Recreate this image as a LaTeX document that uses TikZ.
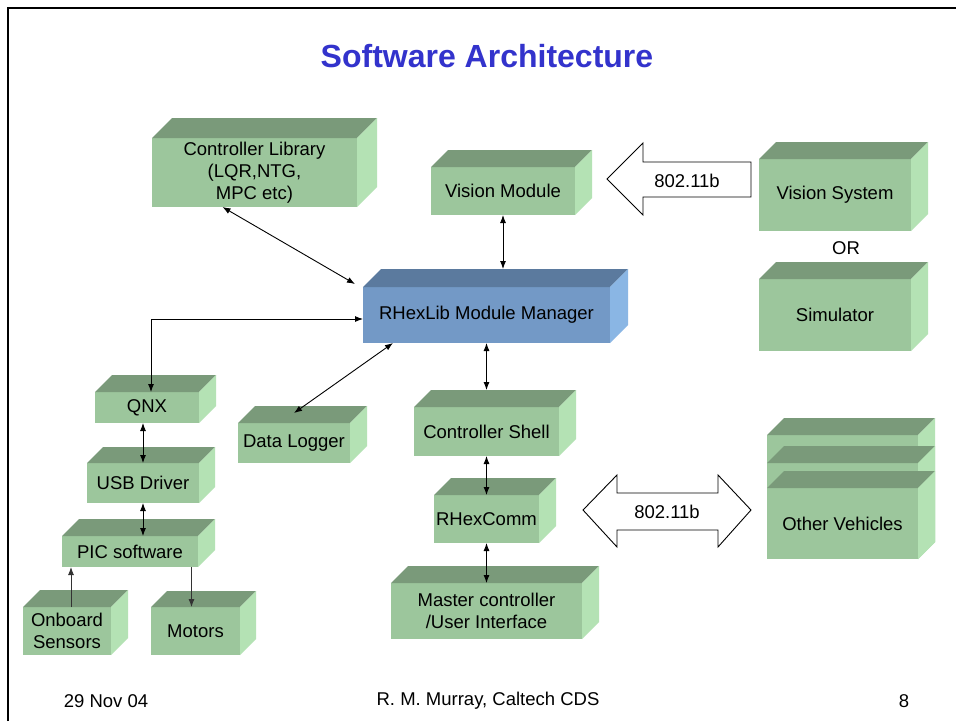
\documentclass[tikz,border=0pt]{standalone}
\usepackage{fontspec}
\setmainfont{Liberation Sans}
\usetikzlibrary{calc,arrows.meta}
\definecolor{gfront}{HTML}{9CC69C}
\definecolor{gtop}{HTML}{7A9A7A}
\definecolor{gside}{HTML}{B4E2B4}
\definecolor{bfront}{HTML}{7399C6}
\definecolor{btop}{HTML}{5B7A9E}
\definecolor{bside}{HTML}{8AB6E4}
\definecolor{titleblue}{HTML}{3333CC}
\tikzset{
  cubeface/.style={draw=none, inner sep=0pt, outer sep=0pt, align=center, text=black,
    font=\fontsize{18.5}{22}\selectfont},
  lbl/.style={font=\fontsize{18.5}{22}\selectfont, inner sep=0pt},
  dbl/.style={{Latex[length=8pt,width=6pt]}-{Latex[length=8pt,width=6pt]}, line width=0.9pt},
  sgl/.style={-{Latex[length=8pt,width=6pt]}, line width=0.9pt, draw=black!80},
  blockarrow/.style={draw=black, fill=white, line width=0.9pt, line join=miter}
}
% scheme, name, x1, y1, x2, y2, depth, text
\newcommand\mkcube[8]{%
  \pgfmathsetmacro\cubeW{#5-#3}\pgfmathsetmacro\cubeH{#6-#4}%
  \node[cubeface, fill=#1front, minimum width=\cubeW pt, minimum height=\cubeH pt, anchor=north west] (#2) at (#3,#4) {#8};
  \fill[#1top] (#2.north west) -- ++(#7,-#7) -- ($(#2.north east)+(#7,-#7)$) -- (#2.north east) -- cycle;
  \fill[#1side] (#2.north east) -- ++(#7,-#7) -- ($(#2.south east)+(#7,-#7)$) -- (#2.south east) -- cycle;
}
\begin{document}
\begin{tikzpicture}[x=1pt,y=-1pt]
\useasboundingbox (0,0) rectangle (956,721);
\fill[white] (0,0) rectangle (956,721);
% frame
\draw[line width=2.5pt] (8,721) -- (8,8) -- (956,8);
% title
\node[font=\fontsize{32}{36}\selectfont\bfseries, text=titleblue] (title) at (487,56) {Software Architecture};
% boxes
\mkcube{g}{cl}{152}{138}{357}{207}{20}{Controller Library\\(LQR,NTG,\\MPC etc)}
\mkcube{g}{vm}{431}{167}{575}{215}{17}{Vision Module}
\mkcube{b}{rm}{363}{287}{610}{343}{18}{RHexLib Module Manager}
\mkcube{g}{vs}{759}{159}{911}{231}{17}{Vision System}
\mkcube{g}{sim}{759}{279}{911}{351}{17}{Simulator}
\mkcube{g}{qnx}{95}{392}{199}{423}{17}{QNX}
\mkcube{g}{usb}{87}{463}{199}{503}{16}{USB Driver}
\mkcube{g}{pic}{62}{536}{198}{567}{17}{PIC software}
\mkcube{g}{os}{23}{607}{111}{655}{17}{Onboard\\Sensors}
\mkcube{g}{mo}{151}{607}{240}{655}{16}{Motors}
\mkcube{g}{dl}{238}{423}{350}{463}{17}{Data Logger}
\mkcube{g}{cs}{414}{407}{559}{456}{17}{Controller Shell}
\mkcube{g}{rc}{434}{495}{539}{543}{17}{RHexComm}
\mkcube{g}{mc}{391}{583}{582}{639}{17}{Master controller\\/User Interface}
\mkcube{g}{ovA}{767}{435}{918}{559}{17}{}
\mkcube{g}{ovB}{767}{463}{918}{559}{17}{}
\mkcube{g}{ov}{767}{488}{918}{559}{17}{Other Vehicles}
% OR
\node[lbl] (or) at (846,248) {OR};
% block arrows
\draw[blockarrow] (607,179) -- (643,143) -- (643,162) -- (751,162) -- (751,197) -- (643,197) -- (643,215) -- cycle;
\node[lbl] (wlan1) at (687,181) {802.11b};
\draw[blockarrow] (583,510) -- (617,475) -- (617,493) -- (718,493) -- (718,475) -- (751,510) -- (718,547) -- (718,530) -- (617,530) -- (617,547) -- cycle;
\node[lbl] (wlan2) at (667,512) {802.11b};
% connectors
\coordinate (rmtop) at ([yshift=18pt]rm.north);
\draw[dbl] (vm.south) -- (vm.south |- rmtop);
\draw[dbl] ([xshift=-32pt]cl.south) -- ([shift={(-8pt,3pt)}]rm.north west);
\coordinate (cstop) at ([yshift=17pt]cs.north);
\draw[dbl] (rm.south) -- (cstop);
\draw[dbl] (cs.south) -- (rc.north);
\draw[dbl] (rc.south) -- (mc.north);
\coordinate (qin) at ([xshift=4pt]qnx.north);
\draw[dbl] ([yshift=-4pt]rm.west) -| (qin);
\draw[dbl] (usb.north |- qnx.south) -- (usb.north);
\draw[dbl] (usb.south) -- (usb.south |- pic.north);
\coordinate (sin) at ([xshift=4pt]os.north);
\draw[sgl] (sin) -- (sin |- pic.south);
\coordinate (mout) at ([xshift=-4pt]mo.north);
\draw[sgl] (mout |- pic.south) -- (mout);
\draw[dbl] ([xshift=30pt]rm.south west) -- ([yshift=10pt]dl.north);
% footer
\node[lbl] (date) at (106,701) {29 Nov 04};
\node[lbl] (author) at (488,701) {R. M. Murray, Caltech CDS};
\node[lbl] (page) at (904,701) {8};
\end{tikzpicture}
\end{document}
